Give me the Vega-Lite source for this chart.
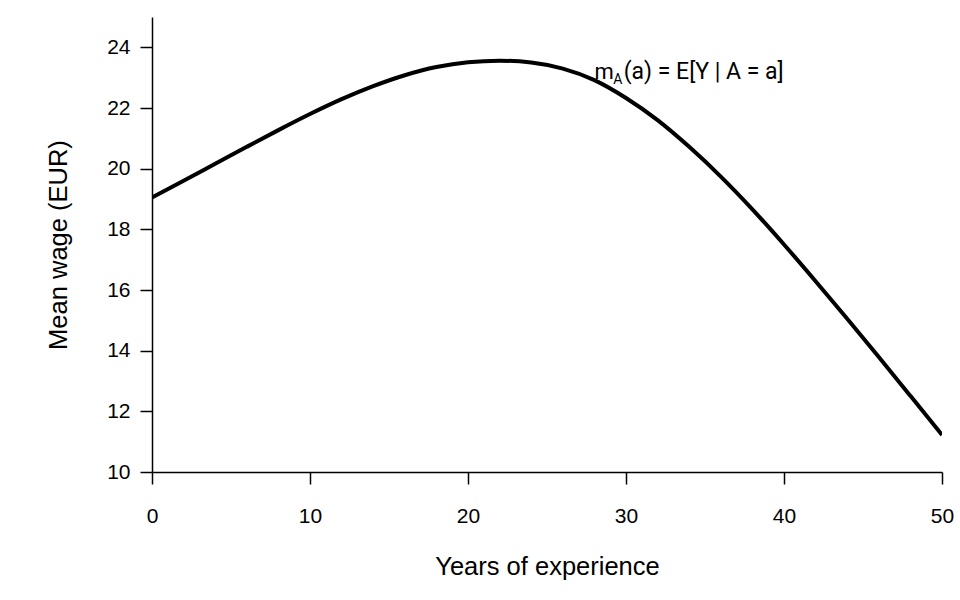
{
  "$schema": "https://vega.github.io/schema/vega-lite/v6.json",
  "width": 790,
  "height": 455,
  "autosize": {"type": "none"},
  "padding": {"left": 152, "top": 17, "right": 18, "bottom": 128},
  "background": "white",
  "layer": [
    {
      "data": {
        "values": [
          {"years": 0, "wage": 19.05},
          {"years": 2, "wage": 19.6},
          {"years": 4, "wage": 20.16},
          {"years": 6, "wage": 20.72},
          {"years": 8, "wage": 21.27},
          {"years": 10, "wage": 21.8},
          {"years": 12, "wage": 22.29},
          {"years": 14, "wage": 22.72},
          {"years": 16, "wage": 23.08},
          {"years": 18, "wage": 23.35},
          {"years": 20, "wage": 23.51},
          {"years": 22, "wage": 23.56},
          {"years": 24, "wage": 23.5},
          {"years": 26, "wage": 23.3},
          {"years": 28, "wage": 22.92},
          {"years": 30, "wage": 22.33},
          {"years": 32, "wage": 21.6},
          {"years": 34, "wage": 20.72},
          {"years": 36, "wage": 19.74},
          {"years": 38, "wage": 18.66},
          {"years": 40, "wage": 17.5},
          {"years": 42, "wage": 16.29},
          {"years": 44, "wage": 15.05},
          {"years": 46, "wage": 13.79},
          {"years": 48, "wage": 12.51},
          {"years": 50, "wage": 11.22}
        ]
      },
      "mark": {"type": "line", "color": "black", "strokeWidth": 4, "interpolate": "monotone", "clip": true},
      "encoding": {
        "x": {
          "field": "years",
          "type": "quantitative",
          "title": "Years of experience",
          "scale": {"domain": [0, 50], "nice": false, "zero": false},
          "axis": {"values": [0, 10, 20, 30, 40, 50], "labelPadding": 21, "titlePadding": 28, "labelFlush": false}
        },
        "y": {
          "field": "wage",
          "type": "quantitative",
          "title": "Mean wage (EUR)",
          "scale": {"domain": [10, 25], "nice": false, "zero": false},
          "axis": {"values": [10, 12, 14, 16, 18, 20, 22, 24], "labelPadding": 10, "titlePadding": 35, "labelFlush": false}
        }
      }
    },
    {
      "data": {"values": [{"years": 28.0, "wage": 22.96, "label": "m"}]},
      "mark": {"type": "text", "align": "left", "baseline": "alphabetic", "font": "Roboto", "fontSize": 22, "color": "black"},
      "encoding": {
        "x": {"field": "years", "type": "quantitative"},
        "y": {"field": "wage", "type": "quantitative"},
        "text": {"field": "label"}
      }
    },
    {
      "data": {"values": [{"years": 29.2, "wage": 22.8, "label": "A"}]},
      "mark": {"type": "text", "align": "left", "baseline": "alphabetic", "font": "Roboto", "fontSize": 14, "color": "black"},
      "encoding": {
        "x": {"field": "years", "type": "quantitative"},
        "y": {"field": "wage", "type": "quantitative"},
        "text": {"field": "label"}
      }
    },
    {
      "data": {"values": [{"years": 29.85, "wage": 22.96, "label": "(a) = E[Y | A = a]"}]},
      "mark": {"type": "text", "align": "left", "baseline": "alphabetic", "font": "Roboto", "fontSize": 23, "color": "black"},
      "encoding": {
        "x": {"field": "years", "type": "quantitative"},
        "y": {"field": "wage", "type": "quantitative"},
        "text": {"field": "label"}
      }
    }
  ],
  "config": {
    "view": {"stroke": null},
    "axis": {
      "grid": false,
      "domainColor": "black",
      "domainWidth": 1.5,
      "tickColor": "black",
      "tickWidth": 1.5,
      "tickSize": 12,
      "labelFont": "Liberation Sans",
      "labelFontSize": 21,
      "labelColor": "black",
      "labelAngle": 0,
      "titleFont": "Liberation Sans",
      "titleFontSize": 25.5,
      "titleFontWeight": "normal",
      "titleColor": "black"
    }
  }
}
